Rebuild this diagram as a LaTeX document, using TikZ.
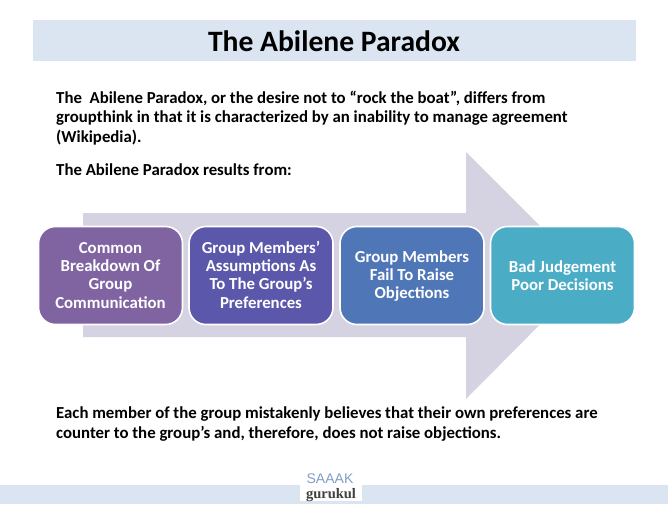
\documentclass[tikz,border=0pt]{standalone}
\usepackage{fontspec}
\setmainfont{Carlito}
\newfontfamily\logoserif{Liberation Serif}
\newfontfamily\logosans{Liberation Sans}
\definecolor{band}{HTML}{DBE5F1}
\definecolor{arrowc}{HTML}{D5D3E1}
\definecolor{boxa}{HTML}{8064A2}
\definecolor{boxb}{HTML}{5B58AB}
\definecolor{boxc}{HTML}{4F77B8}
\definecolor{boxd}{HTML}{4BACC6}
\definecolor{logob}{HTML}{7F9FC8}
\newcommand{\boxtext}[2]{\raisebox{#1}[\height][\depth]{\begin{tabular}{@{}c@{}}#2\end{tabular}}}
\tikzset{
  flowbox/.style={draw=white,line width=1.6pt,rounded corners=17pt,minimum width=144pt,minimum height=98pt,outer sep=0pt,
    inner sep=0pt,text=white,align=center,font=\fontsize{16.8}{18.3}\selectfont\bfseries,anchor=north west},
  para/.style={anchor=north west,inner sep=0pt,align=left,text=black,font=\fontsize{16.8}{19.5}\selectfont\bfseries}
}
\begin{document}
\begin{tikzpicture}[x=1pt,y=-1pt]
\useasboundingbox (0,0) rectangle (668,504);
\fill[white] (0,0) rectangle (668,504);
\fill[band] (33,20) rectangle (636,61);
\fill[band] (0,484.5) rectangle (668,504);
\node (title) at (334,41) [inner sep=0pt,font=\fontsize{29.6}{30}\selectfont\bfseries] {The Abilene Paradox};
\node[para] (intro) at (56,90.5) {The\ \ Abilene Paradox, or the desire not to “rock the boat”, differs from\\groupthink in that it is characterized by an inability to manage agreement\\(Wikipedia).};
\node[para] (from) at (56,164) {The Abilene Paradox results from:};
\fill[arrowc] (83,213) -- (466,213) -- (466,152) -- (589,275) -- (466,399) -- (466,337) -- (83,337) -- cycle;
\node[flowbox,fill=boxa] (a) at (38.5,226.5) {\boxtext{-1.5pt}{Common\\Breakdown Of\\Group\\Communication}};
\node[flowbox,fill=boxb] (b) at (189,226.5) {\boxtext{-1.5pt}{Group Members’\\Assumptions As\\To The Group’s\\Preferences}};
\node[flowbox,fill=boxc] (c) at (340,226.5) {\boxtext{-1.5pt}{Group Members\\Fail To Raise\\Objections}};
\node[flowbox,fill=boxd] (d) at (490.5,226.5) {\boxtext{-2pt}{Bad Judgement\\Poor Decisions}};
\node[para] (end) at (56,407) {Each member of the group mistakenly believes that their own preferences are\\counter to the group’s and, therefore, does not raise objections.};
\fill[white] (300,474) rectangle (362,501);
\node (logoa) at (330,478.5) [inner sep=0pt,text=logob,font=\logosans\fontsize{14}{14}\selectfont] {SAAAK};
\node (logob) at (331,495) [inner sep=0pt,text=black!75,font=\logoserif\fontsize{14.5}{14.5}\selectfont\bfseries] {gurukul};
\end{tikzpicture}
\end{document}
